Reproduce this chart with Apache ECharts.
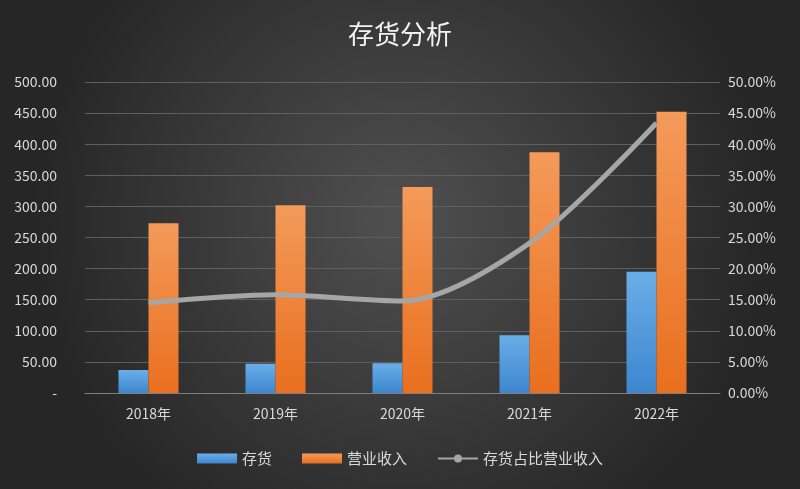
<!DOCTYPE html>
<html><head><meta charset="utf-8">
<script src="https://cdn.jsdelivr.net/npm/echarts@6/dist/echarts.min.js"></script>
<style>html,body{margin:0;padding:0;}#c{width:800px;height:489px;}</style>
</head><body><div id="c"></div>
<script>
const categories = ['2018年','2019年','2020年','2021年','2022年'];
const inventory = [37, 47, 48, 93, 195];
const revenue = [273, 302, 331, 387, 452];
const ratio = [14.5, 15.8, 14.8, 24.1, 43.4];
const chart = echarts.init(document.getElementById('c'));
const font = '"Microsoft YaHei","Noto Sans CJK SC",sans-serif';
const bg = new echarts.graphic.RadialGradient(0.5,0.45,0.75,[{offset:0,color:'#505050'},{offset:1,color:'#262626'}]);
chart.setOption({
  backgroundColor: bg,
  title:{text:'存货分析',left:'center',top:16,textStyle:{color:'#f2f2f2',fontSize:26,fontWeight:'normal',fontFamily:font,letterSpacing:4}},
  grid:{left:85,right:80,top:82,bottom:96},
  legend:{bottom:18,itemGap:30,textStyle:{color:'#d9d9d9',fontSize:15,fontFamily:font},
    data:[{name:'存货',icon:'rect'},{name:'营业收入',icon:'rect'},{name:'存货占比营业收入'}],itemWidth:40,itemHeight:10},
  xAxis:{type:'category',data:categories,axisLine:{lineStyle:{color:'#7f7f7f'}},axisTick:{show:false},
    axisLabel:{color:'#d9d9d9',fontSize:14,margin:14,fontFamily:font}},
  yAxis:[{type:'value',min:0,max:500,interval:50,splitLine:{lineStyle:{color:'#5f5f5f'}},
    axisLabel:{color:'#d9d9d9',fontSize:14,margin:28,fontFamily:font,formatter:v=>v===0?'-':v.toFixed(2)}},
    {type:'value',min:0,max:50,interval:5,splitLine:{show:false},
    axisLabel:{color:'#d9d9d9',fontSize:14,fontFamily:font,formatter:v=>v.toFixed(2)+'%'}}],
  series:[
    {name:'存货',type:'bar',data:inventory,barWidth:30,barGap:'0%',
      itemStyle:{color:new echarts.graphic.LinearGradient(0,0,0,1,[{offset:0,color:'#6aaee8'},{offset:1,color:'#3d86cf'}])}},
    {name:'营业收入',type:'bar',data:revenue,barWidth:30,
      itemStyle:{color:new echarts.graphic.LinearGradient(0,0,0,1,[{offset:0,color:'#f49a5a'},{offset:1,color:'#e96f1e'}])}},
    {name:'存货占比营业收入',type:'line',yAxisIndex:1,data:ratio,smooth:0.3,symbol:'none',
      lineStyle:{color:'#a6a6a6',width:5},itemStyle:{color:'#a6a6a6'}}
  ]
});
</script></body></html>
